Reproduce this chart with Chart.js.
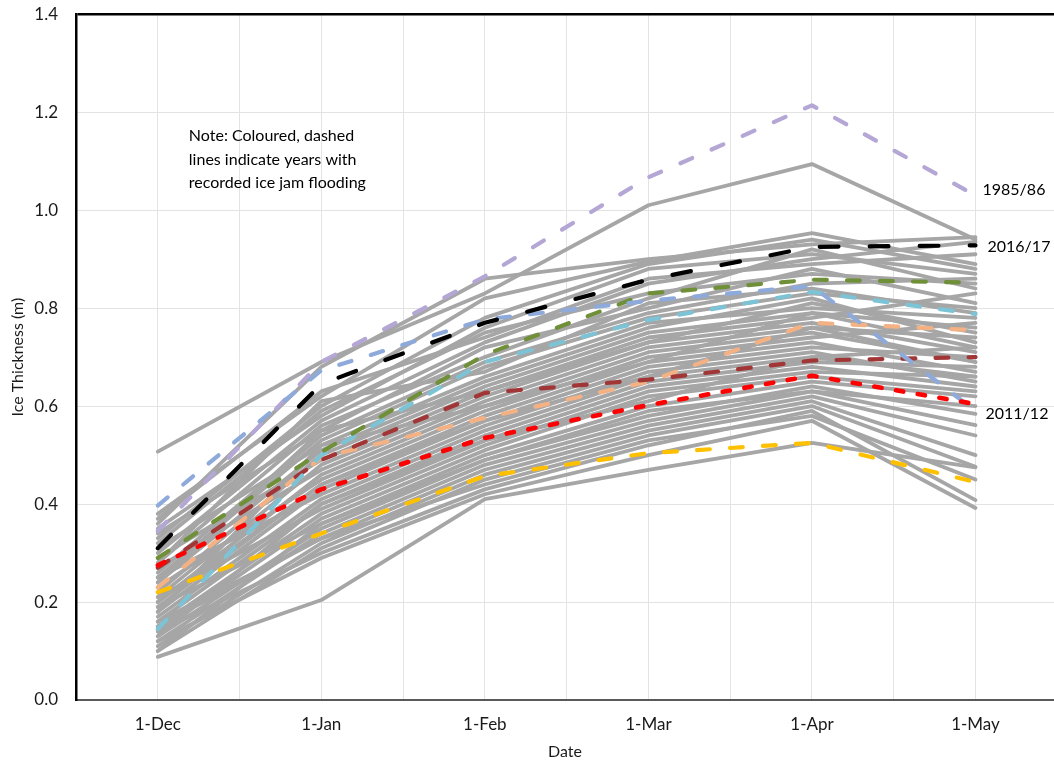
<!DOCTYPE html>
<html>
<head>
<meta charset="utf-8">
<script src="https://cdn.jsdelivr.net/npm/chart.js@4/dist/chart.umd.min.js"></script>
<style>
  html, body { margin: 0; padding: 0; background: #fff; }
  #wrap { width: 1054px; height: 766px; position: relative; overflow: hidden; }
  #inner { position: absolute; left: 0; top: -14px; width: 1054px; height: 780px; }
</style>
</head>
<body>
<div id="wrap"><div id="inner"><canvas id="c"></canvas></div></div>
<script>
// Sampling dates along the x axis
const months = ['1-Dec', '1-Jan', '1-Feb', '1-Mar', '1-Apr', '1-May'];
const yTicks = [0, 0.2, 0.4, 0.6, 0.8, 1.0, 1.2, 1.4];

// Ice thickness (m) for winters with recorded ice jam flooding
const jam1985_86 = [0.345, 0.69, 0.865, 1.067, 1.214, 1.03];
const jam2016_17 = [0.31, 0.645, 0.77, 0.858, 0.925, 0.928];
const jam2011_12 = [0.397, 0.673, 0.777, 0.815, 0.845, 0.59];
const jamGreen   = [0.29, 0.506, 0.705, 0.83, 0.858, 0.852];
const jamCyan    = [0.145, 0.50, 0.69, 0.776, 0.833, 0.788];
const jamOrange  = [0.23, 0.495, 0.576, 0.65, 0.77, 0.755];
const jamDarkRed = [0.27, 0.49, 0.627, 0.654, 0.693, 0.70];
const jamRed     = [0.275, 0.43, 0.535, 0.602, 0.662, 0.604];
const jamYellow  = [0.22, 0.34, 0.457, 0.504, 0.525, 0.445];

// Ice thickness (m) for all other winters
const otherYears = [
  [0.507, 0.69, 0.83, 1.01, 1.094, 0.94],
  [0.36, 0.68, 0.86, 0.90, 0.93, 0.945],
  [0.38, 0.62, 0.82, 0.895, 0.953, 0.89],
  [0.33, 0.60, 0.78, 0.89, 0.94, 0.88],
  [0.35, 0.58, 0.76, 0.88, 0.91, 0.87],
  [0.30, 0.57, 0.73, 0.85, 0.90, 0.935],
  [0.28, 0.56, 0.70, 0.82, 0.92, 0.84],
  [0.34, 0.55, 0.72, 0.80, 0.88, 0.81],
  [0.26, 0.54, 0.69, 0.79, 0.85, 0.86],
  [0.25, 0.53, 0.68, 0.78, 0.83, 0.80],
  [0.31, 0.52, 0.66, 0.77, 0.80, 0.78],
  [0.24, 0.51, 0.65, 0.76, 0.82, 0.73],
  [0.22, 0.50, 0.64, 0.75, 0.79, 0.76],
  [0.29, 0.49, 0.63, 0.74, 0.78, 0.83],
  [0.21, 0.48, 0.62, 0.73, 0.77, 0.71],
  [0.27, 0.47, 0.61, 0.72, 0.76, 0.74],
  [0.20, 0.46, 0.60, 0.71, 0.75, 0.69],
  [0.23, 0.45, 0.59, 0.70, 0.74, 0.77],
  [0.19, 0.44, 0.58, 0.69, 0.73, 0.67],
  [0.18, 0.43, 0.57, 0.68, 0.72, 0.70],
  [0.25, 0.42, 0.56, 0.67, 0.71, 0.65],
  [0.17, 0.41, 0.55, 0.66, 0.70, 0.72],
  [0.16, 0.40, 0.54, 0.65, 0.69, 0.68],
  [0.21, 0.39, 0.53, 0.64, 0.68, 0.64],
  [0.15, 0.38, 0.52, 0.63, 0.67, 0.66],
  [0.14, 0.37, 0.51, 0.62, 0.66, 0.63],
  [0.19, 0.36, 0.50, 0.60, 0.65, 0.62],
  [0.13, 0.35, 0.49, 0.58, 0.64, 0.584],
  [0.12, 0.34, 0.48, 0.57, 0.63, 0.561],
  [0.16, 0.33, 0.47, 0.56, 0.62, 0.54],
  [0.11, 0.32, 0.46, 0.55, 0.61, 0.50],
  [0.10, 0.31, 0.45, 0.54, 0.60, 0.476],
  [0.14, 0.30, 0.43, 0.52, 0.59, 0.408],
  [0.12, 0.29, 0.42, 0.50, 0.57, 0.392],
  [0.088, 0.204, 0.41, 0.47, 0.525, 0.475],
  [0.37, 0.63, 0.74, 0.86, 0.89, 0.91],
  [0.32, 0.59, 0.75, 0.83, 0.87, 0.85],
  [0.28, 0.61, 0.67, 0.81, 0.84, 0.79],
  [0.24, 0.55, 0.63, 0.73, 0.81, 0.75],
  [0.18, 0.52, 0.60, 0.69, 0.79, 0.72],
  [0.20, 0.44, 0.57, 0.66, 0.76, 0.69],
  [0.13, 0.40, 0.53, 0.61, 0.70, 0.66],
  [0.10, 0.36, 0.49, 0.59, 0.63, 0.60],
  [0.15, 0.33, 0.44, 0.53, 0.58, 0.45]
];

const noteLines = [
  'Note: Coloured, dashed',
  'lines indicate years with',
  'recorded ice jam flooding'
];

const FONT = 'Lato, "Open Sans", sans-serif';

function pts(vals) { return vals.map((v, i) => ({ x: i, y: v })); }

// Dashed series; round caps lengthen each dash by the line width
function dashed(vals, color, dash, gap, width, label) {
  return {
    data: pts(vals),
    borderColor: color,
    borderWidth: width,
    borderDash: [Math.max(dash - width, 1), gap + width],
    borderCapStyle: 'round',
    borderJoinStyle: 'round',
    pointRadius: 0,
    tension: 0,
    endLabel: label || null
  };
}

const datasets = [
  dashed(jam2016_17, '#000000', 23, 27, 4.2, '2016/17'),
  dashed(jamRed, '#FF0000', 12, 10, 4.6),
  dashed(jam2011_12, '#8EAADB', 17, 16, 4.2, '2011/12'),
  dashed(jam1985_86, '#B4A7D6', 17, 17, 4.2, '1985/86'),
  dashed(jamGreen, '#6F8F38', 17, 16, 4.2),
  dashed(jamCyan, '#7CC3D6', 17, 16, 4.2),
  dashed(jamDarkRed, '#A23636', 17, 16, 4.2),
  dashed(jamOrange, '#F4B183', 17, 16, 4.2),
  dashed(jamYellow, '#FFC000', 17, 16, 4.2)
];
otherYears.forEach(vals => datasets.push({
  data: pts(vals),
  borderColor: '#A6A6A6',
  borderWidth: 3.8,
  borderJoinStyle: 'round',
  borderCapStyle: 'round',
  pointRadius: 0,
  tension: 0
}));

// Year labels placed just right of each labelled series' last point
const endLabels = {
  id: 'endLabels',
  afterDatasetsDraw(chart) {
    const ctx = chart.ctx;
    ctx.save();
    ctx.font = '16px ' + FONT;
    ctx.fillStyle = '#000';
    ctx.textAlign = 'left';
    ctx.textBaseline = 'middle';
    const offsets = { '1985/86': [7, -6], '2016/17': [12, 1], '2011/12': [10, 3] };
    chart.data.datasets.forEach((ds, i) => {
      if (!ds.endLabel) return;
      const meta = chart.getDatasetMeta(i);
      const p = meta.data[meta.data.length - 1];
      const o = offsets[ds.endLabel];
      ctx.fillText(ds.endLabel, p.x + o[0], p.y + o[1]);
    });
    ctx.restore();
  }
};

// Explanatory note inside the plot, anchored in data units
const note = {
  id: 'note',
  afterDatasetsDraw(chart) {
    const ctx = chart.ctx;
    const xs = chart.scales.x, ys = chart.scales.y;
    const x0 = xs.getPixelForValue(0.19);
    const y0 = ys.getPixelForValue(1.151);
    ctx.save();
    ctx.font = '16px ' + FONT;
    ctx.fillStyle = '#000';
    ctx.textAlign = 'left';
    ctx.textBaseline = 'middle';
    noteLines.forEach((t, i) => ctx.fillText(t, x0, y0 + i * 23.5));
    ctx.restore();
  }
};

new Chart(document.getElementById('c'), {
  type: 'line',
  data: { datasets },
  plugins: [endLabels, note],
  options: {
    responsive: true,
    maintainAspectRatio: false,
    animation: false,
    layout: { padding: { top: 0, right: 0, left: 0, bottom: 0 } },
    plugins: { legend: { display: false }, tooltip: { enabled: false } },
    scales: {
      x: {
        type: 'linear',
        min: -0.5,
        max: 5.48,
        afterBuildTicks(s) {
          const t = [];
          for (let v = -0.5; v <= 5.0001; v += 0.5) t.push({ value: v });
          s.ticks = t;
        },
        afterFit(s) { s.height = 66; },
        ticks: {
          autoSkip: false,
          maxRotation: 0,
          padding: 14,
          color: '#1a1a1a',
          font: { family: FONT, size: 17 },
          callback: v => Number.isInteger(v) ? months[v] : ''
        },
        grid: { color: '#E3E3E3', lineWidth: 1, drawTicks: false },
        border: { color: '#595959', width: 2 },
        title: {
          display: true,
          text: 'Date',
          color: '#1a1a1a',
          font: { family: FONT, size: 16 },
          padding: { top: 2, bottom: 5 }
        }
      },
      y: {
        min: 0,
        max: 1.4,
        afterBuildTicks(s) { s.ticks = yTicks.map(v => ({ value: v })); },
        afterFit(s) { s.width = 76; },
        ticks: {
          padding: 18,
          color: '#1a1a1a',
          font: { family: FONT, size: 17 },
          callback: v => Number(v).toFixed(1)
        },
        grid: {
          color: c => (c.tick && c.tick.value >= 1.399) ? '#000' : '#E3E3E3',
          lineWidth: c => (c.tick && c.tick.value >= 1.399) ? 2.5 : 1,
          drawTicks: false
        },
        border: { color: '#000', width: 2.5 },
        title: {
          display: true,
          text: 'Ice Thickness (m)',
          color: '#1a1a1a',
          font: { family: FONT, size: 16 },
          padding: { top: 8, bottom: 0 }
        }
      }
    }
  }
});
</script>
</body>
</html>
